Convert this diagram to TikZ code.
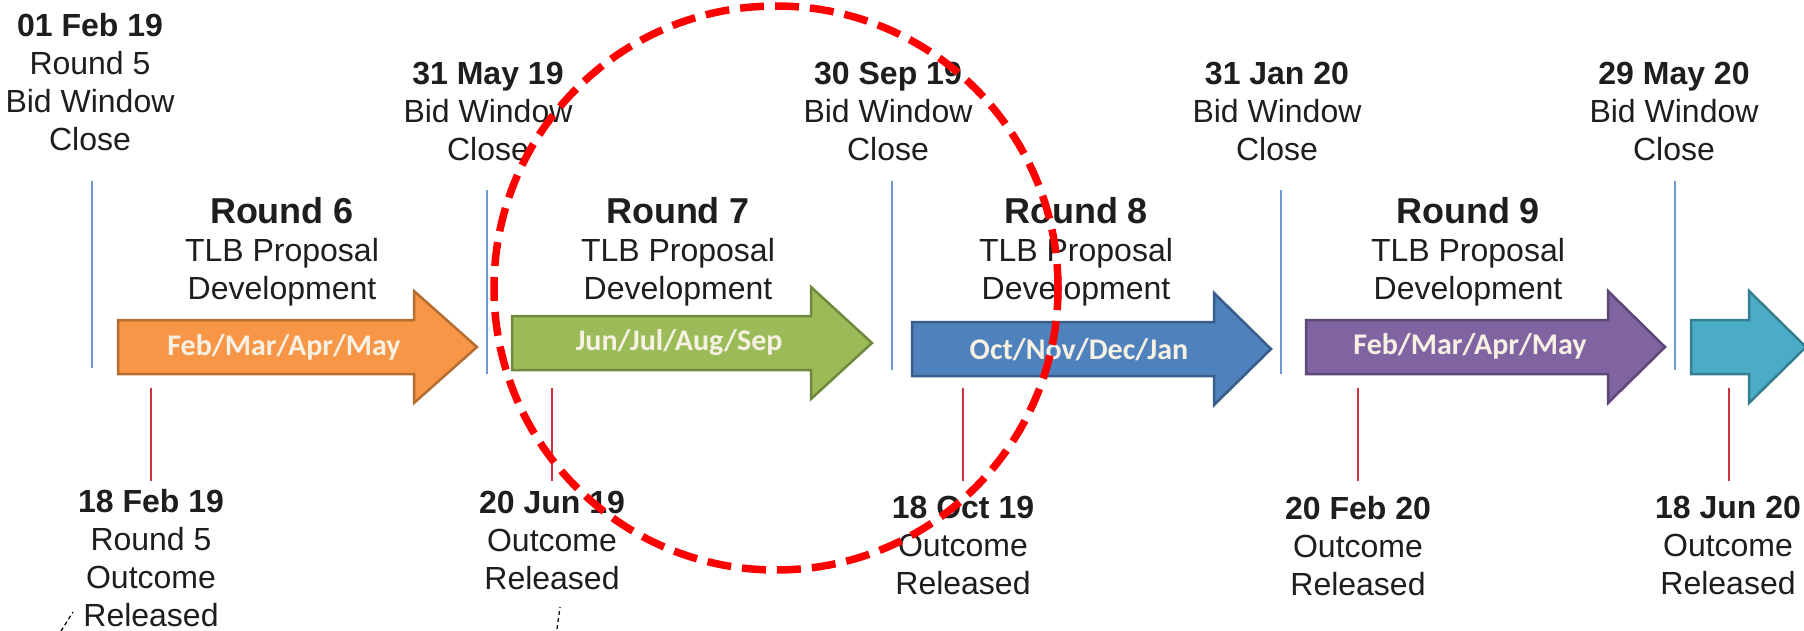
\documentclass[tikz,border=0pt]{standalone}
\usepackage{fontspec}
\setmainfont{Liberation Sans}
\newfontfamily\calfont{Carlito}
\definecolor{orgfill}{HTML}{F79646}\definecolor{orgline}{HTML}{B66D31}
\definecolor{grnfill}{HTML}{9BBB59}\definecolor{grnline}{HTML}{71893F}
\definecolor{blufill}{HTML}{4F81BD}\definecolor{bluline}{HTML}{385D8A}
\definecolor{purfill}{HTML}{8064A2}\definecolor{purline}{HTML}{5C4776}
\definecolor{tealfill}{HTML}{4BACC6}\definecolor{tealline}{HTML}{357D91}
\definecolor{vline}{HTML}{6E98D0}
\definecolor{rline}{HTML}{D0343C}
\definecolor{txt}{HTML}{1E1E1E}
\definecolor{cream}{HTML}{F6F1E2}
\newcommand{\tlarrow}[5]{%
  \path[#1] (#2,#5-27) -- (#3,#5-27) -- (#3,#5-56) -- (#4,#5) -- (#3,#5+56) -- (#3,#5+27) -- (#2,#5+27) -- cycle;}
\tikzset{
  x=1pt, y=-1pt,
  datelbl/.style={align=center, anchor=north, inner sep=0pt, text=txt,
    font=\fontsize{32}{38}\selectfont},
  roundlbl/.style={anchor=north, inner sep=0pt, text=txt,
    font=\fontsize{36}{38}\selectfont\bfseries},
  desclbl/.style={align=center, anchor=north, inner sep=0pt, text=txt,
    font=\fontsize{32}{38.5}\selectfont},
  monthlbl/.style={inner sep=0pt, text=cream, font=\calfont\fontsize{30}{32}\selectfont\bfseries},
  bluetick/.style={draw=vline, line width=2.2pt},
  redtick/.style={draw=rline, line width=2pt},
  smallmark/.style={draw=black, line width=1.2pt, dash pattern=on 4pt off 3pt},
}
\begin{document}
\begin{tikzpicture}
\useasboundingbox (0,0) rectangle (1804,631);
\fill[white] (0,0) rectangle (1804,631);

% arrows
\tlarrow{fill=orgfill, draw=orgline, line width=2.5pt}{118}{414}{477}{347}
\tlarrow{fill=grnfill, draw=grnline, line width=2.5pt}{512}{811}{872}{343}
\tlarrow{fill=blufill, draw=bluline, line width=2.5pt}{912}{1214}{1271}{349}
\tlarrow{fill=purfill, draw=purline, line width=2.5pt}{1306}{1608}{1665}{347}
\tlarrow{fill=tealfill, draw=tealline, line width=2.5pt}{1691}{1749}{1806}{347}

\node[monthlbl] (m6) at (284,347) {Feb/Mar/Apr/May};
\node[monthlbl] (m7) at (679,343) {Jun/Jul/Aug/Sep};
\node[monthlbl] (m8) at (1079,350) {Oct/Nov/Dec/Jan};
\node[monthlbl] (m9) at (1470,346) {Feb/Mar/Apr/May};

% blue ticks
\draw[bluetick] (92,181) -- (92,368);
\draw[bluetick] (487,190) -- (487,374);
\draw[bluetick] (892,181) -- (892,370);
\draw[bluetick] (1281,190) -- (1281,374);
\draw[bluetick] (1675,181) -- (1675,370);

% red ticks
\draw[redtick] (151,388) -- (151,481);
\draw[redtick] (552,388) -- (552,481);
\draw[redtick] (963,388) -- (963,481);
\draw[redtick] (1358,388) -- (1358,481);
\draw[redtick] (1729,388) -- (1729,481);

% top labels
\node[datelbl] (t1) at (90,13) {\textbf{01 Feb 19}\\Round 5\\Bid Window\\Close};
\node[datelbl] (t2) at (488,62) {\textbf{31 May 19}\\Bid Window\\Close};
\node[datelbl] (t3) at (888,62) {\textbf{30 Sep 19}\\Bid Window\\Close};
\node[datelbl] (t4) at (1277,62) {\textbf{31 Jan 20}\\Bid Window\\Close};
\node[datelbl] (t5) at (1674,62) {\textbf{29 May 20}\\Bid Window\\Close};

% round labels
\node[roundlbl] (r6) at (282,197) {Round 6};
\node[desclbl] (d6) at (282,238) {TLB Proposal\\Development};
\node[roundlbl] (r7) at (678,197) {Round 7};
\node[desclbl] (d7) at (678,238) {TLB Proposal\\Development};
\node[roundlbl] (r8) at (1076,197) {Round 8};
\node[desclbl] (d8) at (1076,238) {TLB Proposal\\Development};
\node[roundlbl] (r9) at (1468,197) {Round 9};
\node[desclbl] (d9) at (1468,238) {TLB Proposal\\Development};

% bottom labels
\node[datelbl] (b1) at (151,489) {\textbf{18 Feb 19}\\Round 5\\Outcome\\Released};
\node[datelbl] (b2) at (552,491) {\textbf{20 Jun 19}\\Outcome\\Released};
\node[datelbl] (b3) at (963,496) {\textbf{18 Oct 19}\\Outcome\\Released};
\node[datelbl] (b4) at (1358,496) {\textbf{20 Feb 20}\\Outcome\\Released};
\node[datelbl] (b5) at (1728,496) {\textbf{18 Jun 20}\\Outcome\\Released};

% small marks
\draw[smallmark] (61,631) -- (73,612);
\draw[smallmark] (557,629) -- (560,607);

% highlight circle
\node[circle, draw=red, line width=7.5pt, dash pattern=on 24pt off 11pt,
  minimum size=564pt, inner sep=0pt] (hl) at (776,288) {};
\end{tikzpicture}
\end{document}
